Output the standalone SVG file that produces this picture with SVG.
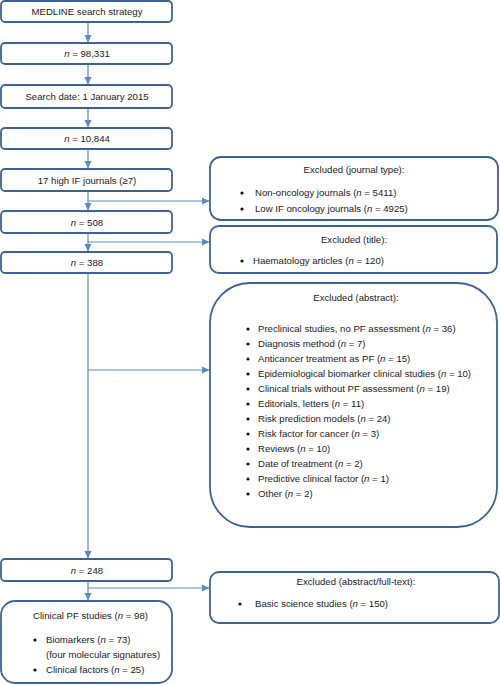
<svg xmlns="http://www.w3.org/2000/svg" width="500" height="685" viewBox="0 0 500 685">
<defs>
<style>
.box{fill:#fff;stroke:#3d6396;stroke-width:1.8}
.ln{fill:none;stroke:#5b87c5;stroke-width:1.2}
text{font-family:"Liberation Sans",Arial,sans-serif;font-size:9.6px;fill:#1a1a1a}
.c{text-anchor:middle}
.i{font-style:italic}
</style>
<marker id="ah" markerWidth="8" markerHeight="8" refX="7" refY="4" orient="auto" markerUnits="userSpaceOnUse">
<path d="M0,0.5 L7.5,4 L0,7.5 Z" fill="#5b87c5"/>
</marker>
<symbol id="bul" overflow="visible"><circle cx="0" cy="0" r="1.6" fill="#111"/></symbol>
</defs>
<g id="connectors">
<line class="ln" x1="88" y1="22" x2="88" y2="42" marker-end="url(#ah)"/>
<line class="ln" x1="88" y1="64" x2="88" y2="84" marker-end="url(#ah)"/>
<line class="ln" x1="88" y1="108" x2="88" y2="127" marker-end="url(#ah)"/>
<line class="ln" x1="88" y1="149" x2="88" y2="168" marker-end="url(#ah)"/>
<line class="ln" x1="88" y1="191" x2="88" y2="210" marker-end="url(#ah)"/>
<line class="ln" x1="88" y1="201" x2="209" y2="201" marker-end="url(#ah)"/>
<line class="ln" x1="88" y1="233" x2="88" y2="251" marker-end="url(#ah)"/>
<line class="ln" x1="88" y1="242" x2="209" y2="242" marker-end="url(#ah)"/>
<line class="ln" x1="88" y1="273" x2="88" y2="558" marker-end="url(#ah)"/>
<line class="ln" x1="88" y1="370" x2="209" y2="370" marker-end="url(#ah)"/>
<line class="ln" x1="88" y1="581" x2="88" y2="600" marker-end="url(#ah)"/>
<line class="ln" x1="88" y1="588" x2="209" y2="588" marker-end="url(#ah)"/>
</g>
<g id="n1"><rect class="box" x="1" y="1" width="171" height="21" rx="4"/><text class="c" x="87" y="15">MEDLINE search strategy</text></g>
<g id="n2"><rect class="box" x="1" y="43" width="171" height="21" rx="4"/><text class="c" x="87" y="57"><tspan class="i">n</tspan> = 98,331</text></g>
<g id="n3"><rect class="box" x="1" y="85" width="171" height="23" rx="4"/><text class="c" x="87" y="100">Search date: 1 January 2015</text></g>
<g id="n4"><rect class="box" x="1" y="128" width="171" height="21" rx="4"/><text class="c" x="87" y="142"><tspan class="i">n</tspan> = 10,844</text></g>
<g id="n5"><rect class="box" x="1" y="169" width="171" height="22" rx="4"/><text class="c" x="87" y="184">17 high IF journals (≥7)</text></g>
<g id="n6"><rect class="box" x="1" y="211" width="171" height="22" rx="4"/><text class="c" x="87" y="226"><tspan class="i">n</tspan> = 508</text></g>
<g id="n7"><rect class="box" x="1" y="252" width="171" height="21" rx="4"/><text class="c" x="87" y="266"><tspan class="i">n</tspan> = 388</text></g>
<g id="n8"><rect class="box" x="1" y="559" width="171" height="22" rx="4"/><text class="c" x="87" y="574"><tspan class="i">n</tspan> = 248</text></g>
<g id="n9"><rect class="box" x="1" y="601" width="171" height="82" rx="14"/>
<text x="33" y="619">Clinical PF studies (<tspan class="i">n</tspan> = 98)</text>
<use href="#bul" x="35" y="640"/><text x="46" y="643">Biomarkers (<tspan class="i">n</tspan> = 73)</text>
<text x="46" y="658">(four molecular signatures)</text>
<use href="#bul" x="35" y="670"/><text x="46" y="673">Clinical factors (<tspan class="i">n</tspan> = 25)</text>
</g>
<g id="e1"><rect class="box" x="210" y="157" width="288" height="63" rx="11"/>
<text class="c" x="354" y="173">Excluded (journal type):</text>
<use href="#bul" x="242" y="193"/><text x="255" y="196">Non-oncology journals (<tspan class="i">n</tspan> = 5411)</text>
<use href="#bul" x="242" y="209"/><text x="255" y="212">Low IF oncology journals (<tspan class="i">n</tspan> = 4925)</text>
</g>
<g id="e2"><rect class="box" x="210" y="226" width="287" height="47" rx="9"/>
<text class="c" x="354" y="243">Excluded (title):</text>
<use href="#bul" x="242" y="261"/><text x="253" y="264">Haematology articles (<tspan class="i">n</tspan> = 120)</text>
</g>
<g id="e3"><rect class="box" x="210" y="283" width="287" height="244" rx="40"/>
<text class="c" x="356" y="301">Excluded (abstract):</text>
<use href="#bul" x="248" y="329"/><text x="258" y="332">Preclinical studies, no PF assessment (<tspan class="i">n</tspan> = 36)</text>
<use href="#bul" x="248" y="344"/><text x="258" y="347">Diagnosis method (<tspan class="i">n</tspan> = 7)</text>
<use href="#bul" x="248" y="359"/><text x="258" y="362">Anticancer treatment as PF (<tspan class="i">n</tspan> = 15)</text>
<use href="#bul" x="248" y="374"/><text x="258" y="377">Epidemiological biomarker clinical studies (<tspan class="i">n</tspan> = 10)</text>
<use href="#bul" x="248" y="389"/><text x="258" y="392">Clinical trials without PF assessment (<tspan class="i">n</tspan> = 19)</text>
<use href="#bul" x="248" y="404"/><text x="258" y="407">Editorials, letters (<tspan class="i">n</tspan> = 11)</text>
<use href="#bul" x="248" y="419"/><text x="258" y="422">Risk prediction models (<tspan class="i">n</tspan> = 24)</text>
<use href="#bul" x="248" y="434"/><text x="258" y="437">Risk factor for cancer (<tspan class="i">n</tspan> = 3)</text>
<use href="#bul" x="248" y="449"/><text x="258" y="452">Reviews (<tspan class="i">n</tspan> = 10)</text>
<use href="#bul" x="248" y="464"/><text x="258" y="467">Date of treatment (<tspan class="i">n</tspan> = 2)</text>
<use href="#bul" x="248" y="479"/><text x="258" y="482">Predictive clinical factor (<tspan class="i">n</tspan> = 1)</text>
<use href="#bul" x="248" y="494"/><text x="258" y="497">Other (<tspan class="i">n</tspan> = 2)</text>
</g>
<g id="e4"><rect class="box" x="210" y="572" width="289" height="51" rx="9"/>
<text class="c" x="356" y="585">Excluded (abstract/full-text):</text>
<use href="#bul" x="240" y="604"/><text x="255" y="607">Basic science studies (<tspan class="i">n</tspan> = 150)</text>
</g>
</svg>
